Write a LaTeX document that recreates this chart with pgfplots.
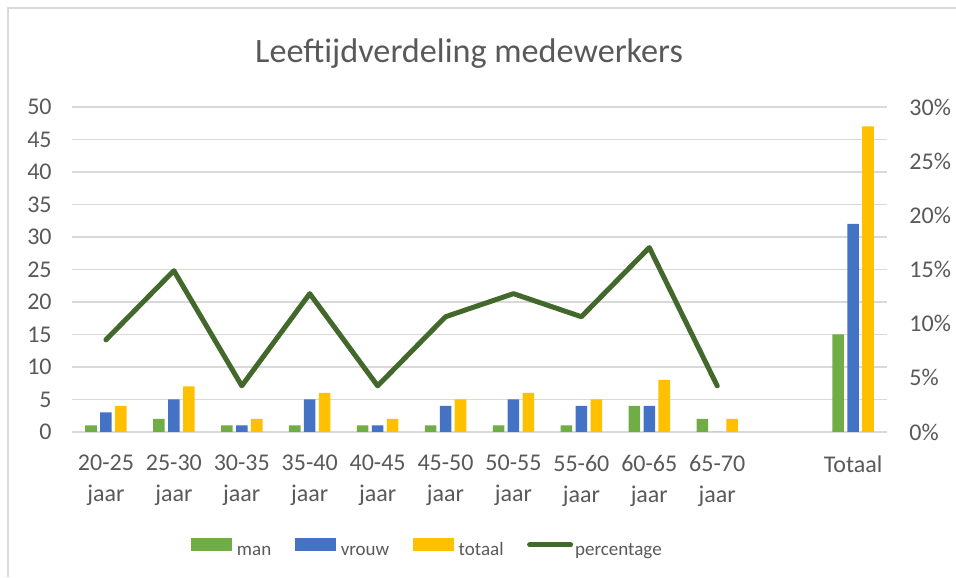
\documentclass[border=0pt]{standalone}
\usepackage{fontspec}
\setmainfont{Carlito}
\usepackage{pgfplots}
\pgfplotsset{compat=1.18}
\definecolor{cman}{HTML}{70AD47}
\definecolor{cvrouw}{HTML}{4472C4}
\definecolor{ctotaal}{HTML}{FFC000}
\definecolor{cline}{HTML}{43682B}
\definecolor{ctext}{HTML}{595959}
\definecolor{cgrid}{HTML}{D9D9D9}
\begin{document}
\begin{tikzpicture}
\path[use as bounding box] (0,0) rectangle (478pt,288.5pt);
\draw[cgrid, line width=1pt] (4pt,0) -- (4pt,284.5pt) -- (478pt,284.5pt);
\node[anchor=base, text=ctext, font=\fontsize{17.1}{20}\selectfont, inner sep=0pt] at (234.5pt,257pt) {Leeftijdverdeling medewerkers};
\pgfplotsset{
  common/.style={
    at={(36pt,72.5pt)}, anchor=south west,
    scale only axis, width=407.5pt, height=162.5pt,
    xmin=-0.5, xmax=11.5,
    axis line style={draw=none},
    major tick length=0pt,
    tick style={draw=none},
    /pgf/number format/assume math mode=true,
    ticklabel style={text=ctext, font=\fontsize{12}{15.5}\selectfont},
  }
}
\begin{axis}[common,
  ymin=0, ymax=50, ytick={0,5,...,50},
  ymajorgrids, grid style={cgrid, line width=0.8pt},
  yticklabel style={anchor=east, inner sep=0pt, xshift=-10pt},
  xtick={0,1,2,3,4,5,6,7,8,9,11},
  xticklabels={20-25\\jaar,25-30\\jaar,30-35\\jaar,35-40\\jaar,40-45\\jaar,45-50\\jaar,50-55\\jaar,55-60\\jaar,60-65\\jaar,65-70\\jaar,Totaal},
  xticklabel style={align=center, anchor=north, inner sep=0pt, yshift=-11.5pt},
  ybar, bar width=0.17,
  legend columns=4,
  legend style={draw=none, fill=none, inner sep=0pt, outer sep=0pt,
    at={(0.146,-0.36)}, anchor=west,
    font=\fontsize{9.5}{11}\selectfont, text=ctext,
    nodes={inner sep=0pt, text height=6.5pt, text depth=2pt},
    /tikz/every odd column/.append style={column sep=2.5pt},
    /tikz/every even column/.append style={column sep=11.75pt}},
]
\addplot[fill=cman, draw=none, bar shift=-0.22,
  legend image code/.code={\fill[cman] (0pt,0pt) rectangle (20.5pt,6.5pt);}]
  coordinates {(0,1) (1,2) (2,1) (3,1) (4,1) (5,1) (6,1) (7,1) (8,4) (9,2) (11,15)};
\addlegendentry{man}
\addplot[fill=cvrouw, draw=none, bar shift=0,
  legend image code/.code={\fill[cvrouw] (0pt,0pt) rectangle (20.5pt,6.5pt);}]
  coordinates {(0,3) (1,5) (2,1) (3,5) (4,1) (5,4) (6,5) (7,4) (8,4) (9,0) (11,32)};
\addlegendentry{vrouw}
\addplot[fill=ctotaal, draw=none, bar shift=0.22,
  legend image code/.code={\fill[ctotaal] (0pt,0pt) rectangle (20.5pt,6.5pt);}]
  coordinates {(0,4) (1,7) (2,2) (3,6) (4,2) (5,5) (6,6) (7,5) (8,8) (9,2) (11,47)};
\addlegendentry{totaal}
\addlegendimage{legend image code/.code={\draw[cline, line width=2.5pt, line cap=round] (1.25pt,3.25pt) -- (21.75pt,3.25pt);}}
\addlegendentry{\hspace{-1.5pt}percentage}
\end{axis}
\begin{axis}[common,
  ymin=0, ymax=30, ytick={0,5,...,30},
  axis y line*=right,
  xtick=\empty,
  yticklabel style={anchor=west, inner sep=0pt, xshift=11pt},
  yticklabel={\pgfmathprintnumber{\tick}\%},
]
\addplot[cline, line width=2.5pt, line join=round, line cap=round, mark=none]
  coordinates {(0,8.51) (1,14.89) (2,4.26) (3,12.77) (4,4.26) (5,10.64) (6,12.77) (7,10.64) (8,17.02) (9,4.26)};
\end{axis}
\end{tikzpicture}
\end{document}
